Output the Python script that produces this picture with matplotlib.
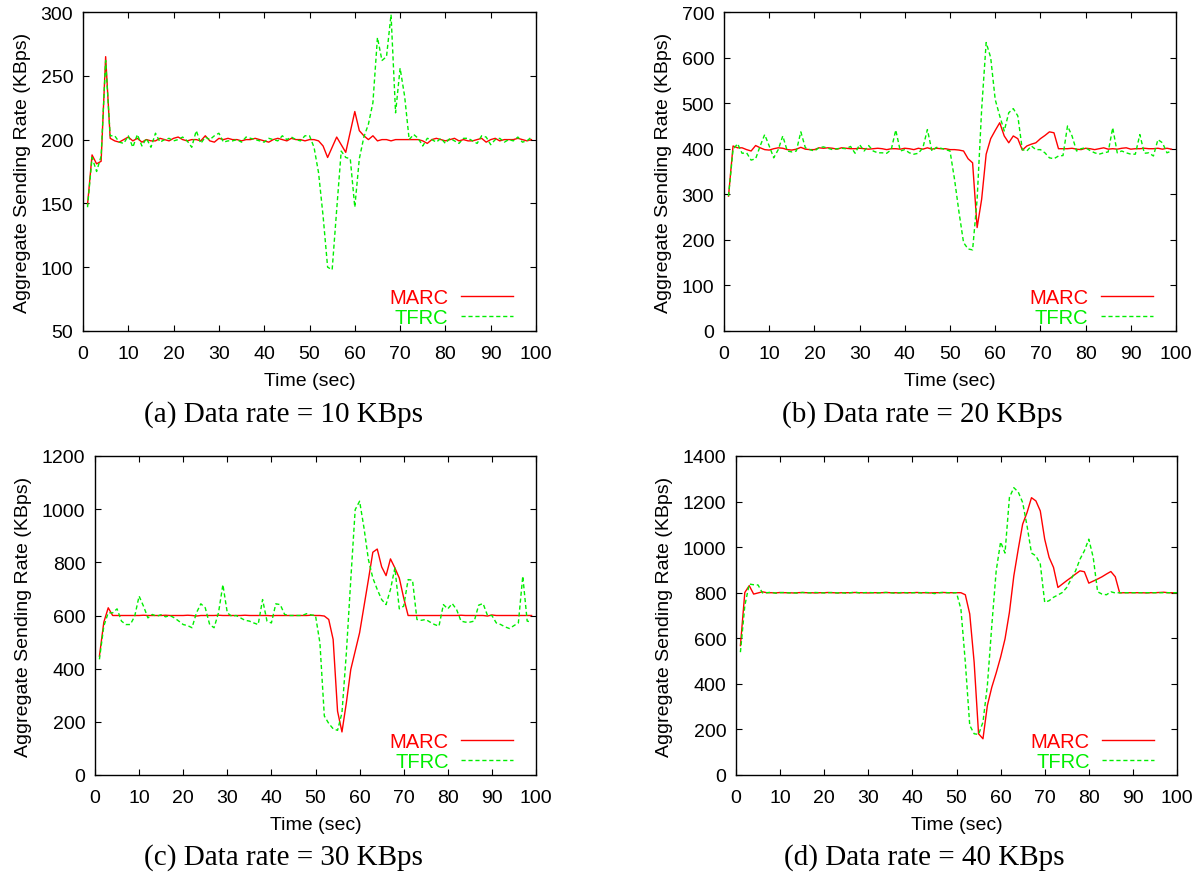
import matplotlib
matplotlib.use("Agg")
import matplotlib.pyplot as plt
import numpy as np

plt.rcParams['font.family'] = ['Liberation Sans', 'DejaVu Sans']

# ---------------- data ----------------
time_a = list(range(1, 100))
marc_a = [149, 188, 181, 183, 265, 201, 199, 198, 200, 202,
          199, 201, 198, 200, 199, 199, 201, 200, 199, 201,
          202, 200, 199, 200, 200, 199, 203, 199, 198, 201,
          200, 201, 200, 200, 199, 200, 200, 201, 200, 199,
          198, 200, 201, 200, 199, 201, 200, 200, 199, 200,
          200, 199, 195, 186, 194, 202, 196, 190, 206, 222,
          207, 203, 200, 203, 199, 200, 200, 199, 200, 200,
          200, 200, 200, 200, 199, 197, 200, 201, 200, 199,
          200, 201, 199, 200, 199, 199, 200, 201, 198, 200,
          201, 199, 200, 200, 200, 201, 200, 199, 200]
tfrc_a = [147, 186, 175, 187, 262, 203, 203, 198, 197, 203,
          194, 204, 195, 201, 194, 205, 198, 200, 201, 199,
          200, 202, 199, 194, 207, 197, 202, 200, 203, 205,
          198, 199, 199, 200, 198, 202, 201, 200, 199, 198,
          201, 200, 199, 203, 200, 202, 200, 199, 203, 203,
          194, 174, 140, 100, 98, 145, 191, 186, 185, 147,
          185, 202, 212, 229, 280, 262, 265, 298, 221, 256,
          234, 200, 204, 201, 195, 201, 200, 198, 201, 197,
          201, 199, 197, 201, 201, 199, 197, 203, 202, 196,
          200, 201, 198, 200, 199, 202, 198, 199, 202]

time_b = list(range(1, 100))
marc_b = [296, 406, 402, 402, 398, 395, 407, 402, 398, 397,
          400, 402, 401, 398, 397, 399, 403, 399, 398, 398,
          402, 401, 402, 401, 399, 402, 401, 400, 400, 401,
          400, 399, 400, 401, 400, 398, 400, 400, 399, 401,
          400, 398, 401, 399, 402, 399, 401, 400, 400, 398,
          398, 397, 395, 378, 369, 227, 289, 388, 422, 440,
          457, 428, 413, 428, 422, 397, 406, 410, 413, 422,
          429, 437, 435, 400, 400, 400, 401, 399, 398, 401,
          400, 398, 400, 402, 399, 400, 399, 401, 402, 399,
          400, 400, 401, 400, 400, 401, 399, 401, 399]
tfrc_b = [296, 398, 411, 390, 391, 375, 378, 406, 431, 406,
          380, 398, 428, 395, 393, 395, 437, 402, 398, 395,
          402, 404, 401, 398, 400, 401, 400, 405, 390, 409,
          395, 407, 395, 391, 391, 390, 398, 441, 395, 398,
          391, 388, 390, 402, 442, 395, 403, 401, 398, 395,
          333, 260, 194, 180, 178, 289, 486, 633, 600, 508,
          472, 439, 479, 488, 472, 398, 395, 406, 398, 398,
          391, 380, 378, 384, 385, 450, 428, 395, 400, 402,
          396, 391, 388, 391, 393, 446, 391, 395, 391, 388,
          388, 431, 390, 391, 384, 420, 413, 391, 395]

time_c = list(range(1, 100))
marc_c = [447, 575, 629, 600, 600, 600, 600, 600, 600, 600,
          601, 600, 600, 600, 600, 601, 600, 600, 600, 600,
          601, 600, 598, 600, 600, 600, 600, 601, 600, 600,
          600, 600, 600, 601, 600, 600, 600, 600, 600, 599,
          600, 600, 600, 600, 600, 600, 600, 600, 601, 600,
          600, 598, 585, 510, 240, 162, 272, 397, 466, 535,
          635, 735, 838, 850, 783, 750, 813, 779, 741, 666,
          600, 600, 600, 600, 600, 600, 600, 600, 600, 600,
          600, 600, 601, 600, 600, 600, 600, 600, 598, 602,
          600, 600, 600, 600, 600, 600, 600, 600, 600]
tfrc_c = [435, 560, 610, 610, 625, 579, 566, 566, 597, 673,
          635, 591, 604, 597, 603, 595, 600, 591, 579, 566,
          562, 554, 610, 644, 629, 566, 554, 610, 716, 610,
          597, 600, 591, 582, 579, 572, 566, 660, 579, 572,
          644, 641, 604, 600, 600, 600, 600, 607, 602, 600,
          497, 222, 194, 174, 168, 234, 460, 735, 998, 1030,
          929, 810, 741, 698, 660, 641, 698, 779, 625, 635,
          735, 733, 585, 582, 585, 575, 566, 560, 641, 625,
          645, 622, 579, 575, 575, 579, 639, 645, 600, 600,
          572, 566, 557, 551, 562, 572, 748, 579, 575]

time_d = list(range(1, 101))
marc_d = [568, 801, 831, 794, 799, 804, 800, 800, 799, 801,
          800, 800, 799, 800, 801, 800, 800, 799, 800, 800,
          801, 800, 799, 800, 800, 800, 801, 800, 800, 799,
          800, 800, 800, 801, 800, 800, 799, 800, 800, 800,
          801, 800, 800, 799, 800, 800, 801, 800, 800, 800,
          800, 791, 707, 495, 181, 159, 305, 385, 448, 517,
          597, 714, 874, 991, 1101, 1152, 1217, 1203, 1159, 1035,
          955, 911, 823, 838, 853, 867, 882, 896, 892, 842,
          851, 860, 870, 882, 893, 870, 799, 800, 800, 800,
          800, 800, 799, 800, 800, 801, 802, 800, 800, 800]
tfrc_d = [539, 743, 838, 835, 834, 799, 800, 802, 798, 800,
          801, 799, 800, 798, 801, 800, 799, 801, 800, 799,
          800, 801, 799, 800, 798, 800, 802, 799, 800, 801,
          800, 799, 800, 801, 800, 798, 800, 801, 799, 800,
          800, 799, 801, 800, 796, 800, 801, 800, 799, 800,
          728, 495, 218, 181, 178, 232, 393, 655, 896, 1023,
          974, 1218, 1261, 1242, 1196, 1093, 974, 962, 926, 758,
          765, 780, 790, 801, 823, 860, 896, 947, 984, 1035,
          955, 804, 794, 791, 804, 799, 800, 800, 800, 800,
          800, 800, 800, 800, 800, 800, 800, 800, 800, 800]

xticks = list(range(0, 101, 10))
yticks_a = list(range(50, 301, 50))
yticks_b = list(range(0, 701, 100))
yticks_c = list(range(0, 1201, 200))
yticks_d = list(range(0, 1401, 200))

captions = ["(a) Data rate = 10 KBps", "(b) Data rate = 20 KBps",
            "(c) Data rate = 30 KBps", "(d) Data rate = 40 KBps"]

# ---------------- figure ----------------
W, H = 1201, 878
fig = plt.figure(figsize=(W / 100, H / 100), dpi=100)

def box(l, t, r, b):
    return [l / W, 1 - b / H, (r - l) / W, (b - t) / H]

panels = [
    (box(83, 13, 536, 332), time_a, marc_a, tfrc_a, yticks_a, (283, 415)),
    (box(724, 13, 1176, 332), time_b, marc_b, tfrc_b, yticks_b, (922, 415)),
    (box(95, 457, 536, 776), time_c, marc_c, tfrc_c, yticks_c, (283, 858)),
    (box(736, 457, 1177, 776), time_d, marc_d, tfrc_d, yticks_d, (924, 858)),
]

for i, (rect, t, m, f, yt, cap) in enumerate(panels):
    ax = fig.add_axes(rect)
    ax.plot(t, m, color='#ff0000', lw=1.0, label='MARC')
    ax.plot(t, f, color='#00ee00', lw=1.0, linestyle=(0, (3, 2)), label='TFRC')
    ax.set_xlim(0, 100)
    ax.set_ylim(yt[0], yt[-1])
    ax.set_xticks(xticks)
    ax.set_yticks(yt)
    ax.tick_params(direction='in', top=True, right=True, length=4,
                   width=0.8, labelsize=14)
    ax.tick_params(axis='x', pad=10)
    ax.tick_params(axis='y', pad=7)
    for s in ax.spines.values():
        s.set_linewidth(1.0)
    ax.set_xlabel('Time (sec)', fontsize=14, labelpad=7)
    ax.set_ylabel('Aggregate Sending Rate (KBps)', fontsize=14, labelpad=7)
    leg = ax.legend(loc='lower right', frameon=False, markerfirst=False,
                    labelcolor='linecolor', fontsize=14.5, handlelength=2.6,
                    handletextpad=0.6, labelspacing=0.02, borderaxespad=0.0,
                    bbox_to_anchor=(0.967, -0.012))
    fig.text(cap[0] / W, 1 - cap[1] / H, captions[i], ha='center', va='center',
             fontsize=21, family=['Liberation Serif', 'DejaVu Serif'])

fig.savefig('out.png', dpi=100)
